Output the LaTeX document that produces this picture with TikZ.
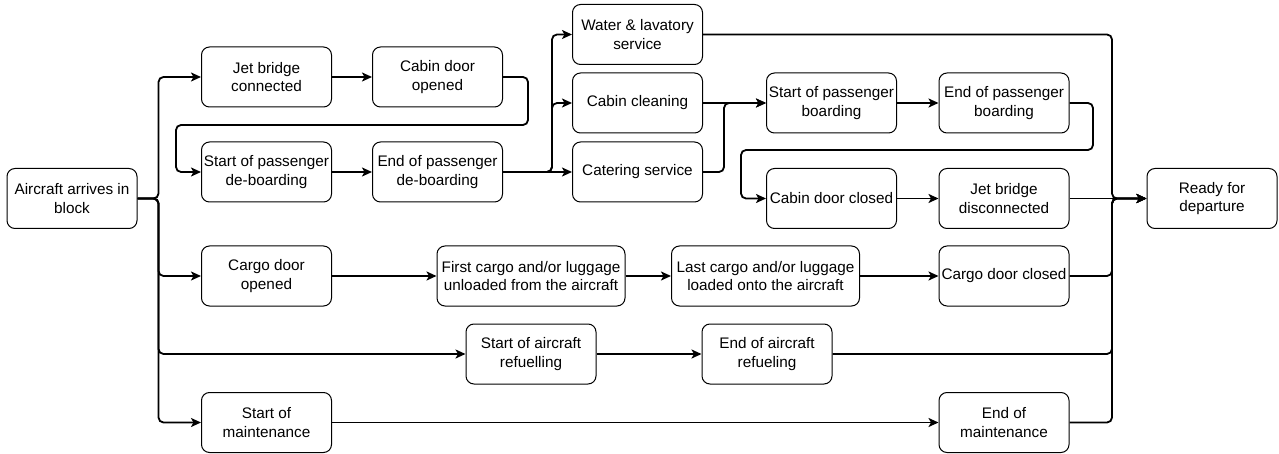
\documentclass[tikz,border=0pt]{standalone}
\usepackage{fontspec}
\setmainfont{Liberation Sans}
\usetikzlibrary{arrows.meta}
\tikzset{
  task/.style={draw=black, line width=1pt, rounded corners=8pt, minimum width=130pt,
    minimum height=60pt, align=center, inner sep=0pt,
    font=\fontsize{15.3}{18.5}\selectfont},
  widetask/.style={task, minimum width=188pt},
  conn/.style={line width=1.8pt, rounded corners=5pt,
    -{Stealth[length=10pt,width=9pt,inset=2.5pt]}},
}
\begin{document}
\begin{tikzpicture}[x=1pt,y=-1pt]
\useasboundingbox (0,0) rectangle (1279,454);

% tasks
\node[task] (arr) at (72,198.5) {Aircraft arrives in\\block};
\node[task] (jb)  at (266.5,77) {Jet bridge\\connected};
\node[task] (cdo) at (437.5,77) {Cabin door\\opened};
\node[task] (sdb) at (266.5,172) {Start of passenger\\de-boarding};
\node[task] (edb) at (437.5,172) {End of passenger\\de-boarding};
\node[task] (wat) at (637.5,34.5) {Water \& lavatory\\service};
\node[task] (cln) at (637.5,103) {Cabin cleaning};
\node[task] (cat) at (637.5,172) {Catering service};
\node[task] (sb)  at (831.5,103) {Start of passenger\\boarding};
\node[task] (eb)  at (1004,103) {End of passenger\\boarding};
\node[task] (cdc) at (831.5,198.5) {Cabin door closed};
\node[task] (jbd) at (1004,198.5) {Jet bridge\\disconnected};
\node[task] (rdy) at (1212,198.5) {Ready for\\departure};
\node[task] (cgo) at (266.5,276) {Cargo door\\opened};
\node[widetask] (fcl) at (531,276) {First cargo and/or luggage\\unloaded from the aircraft};
\node[widetask] (lcl) at (765.5,276) {Last cargo and/or luggage\\loaded onto the aircraft};
\node[task] (cgc) at (1004,276) {Cargo door closed};
\node[task] (srf) at (531,354) {Start of aircraft\\refuelling};
\node[task] (erf) at (767,354) {End of aircraft\\refueling};
\node[task] (smt) at (266.5,422.5) {Start of\\maintenance};
\node[task] (emt) at (1004,422.5) {End of\\maintenance};

% branches leaving the arrival
\draw[conn] (arr.east) -- ++(21,0) |- (jb.west);
\draw[conn] (arr.east) -- ++(21,0) |- (cgo.west);
\draw[conn] (arr.east) -- ++(21,0) |- (srf.west);
\draw[conn] (arr.east) -- ++(21,0) |- (smt.west);

% passenger side
\draw[conn] (jb.east) -- (cdo.west);
\draw[conn] (cdo.east) -| (528,125) -| (176,172) -- (sdb.west);
\draw[conn] (sdb.east) -- (edb.west);
\draw[conn] (edb.east) -- ++(49,0) |- (wat.west);
\draw[conn] (edb.east) -- ++(49,0) |- (cln.west);
\draw[conn] (edb.east) -- (cat.west);
\draw[conn] (cln.east) -- (sb.west);
\draw[conn] (cat.east) -- ++(21,0) |- (sb.west);
\draw[conn] (sb.east) -- (eb.west);
\draw[conn] (eb.east) -| (1093,150) -| (741,198.5) -- (cdc.west);
\draw[conn] (cdc.east) -- (jbd.west);

% cargo, fuel and maintenance
\draw[conn] (cgo.east) -- (fcl.west);
\draw[conn] (fcl.east) -- (lcl.west);
\draw[conn] (lcl.east) -- (cgc.west);
\draw[conn] (srf.east) -- (erf.west);
\draw[conn] (smt.east) -- (emt.west);

% merging into departure
\draw[conn] (wat.east) -| (1112,198.5) -- (rdy.west);
\draw[conn] (jbd.east) -- (rdy.west);
\draw[conn] (cgc.east) -| (1112,198.5) -- (rdy.west);
\draw[conn] (erf.east) -| (1112,198.5) -- (rdy.west);
\draw[conn] (emt.east) -| (1112,198.5) -- (rdy.west);
\end{tikzpicture}
\end{document}
